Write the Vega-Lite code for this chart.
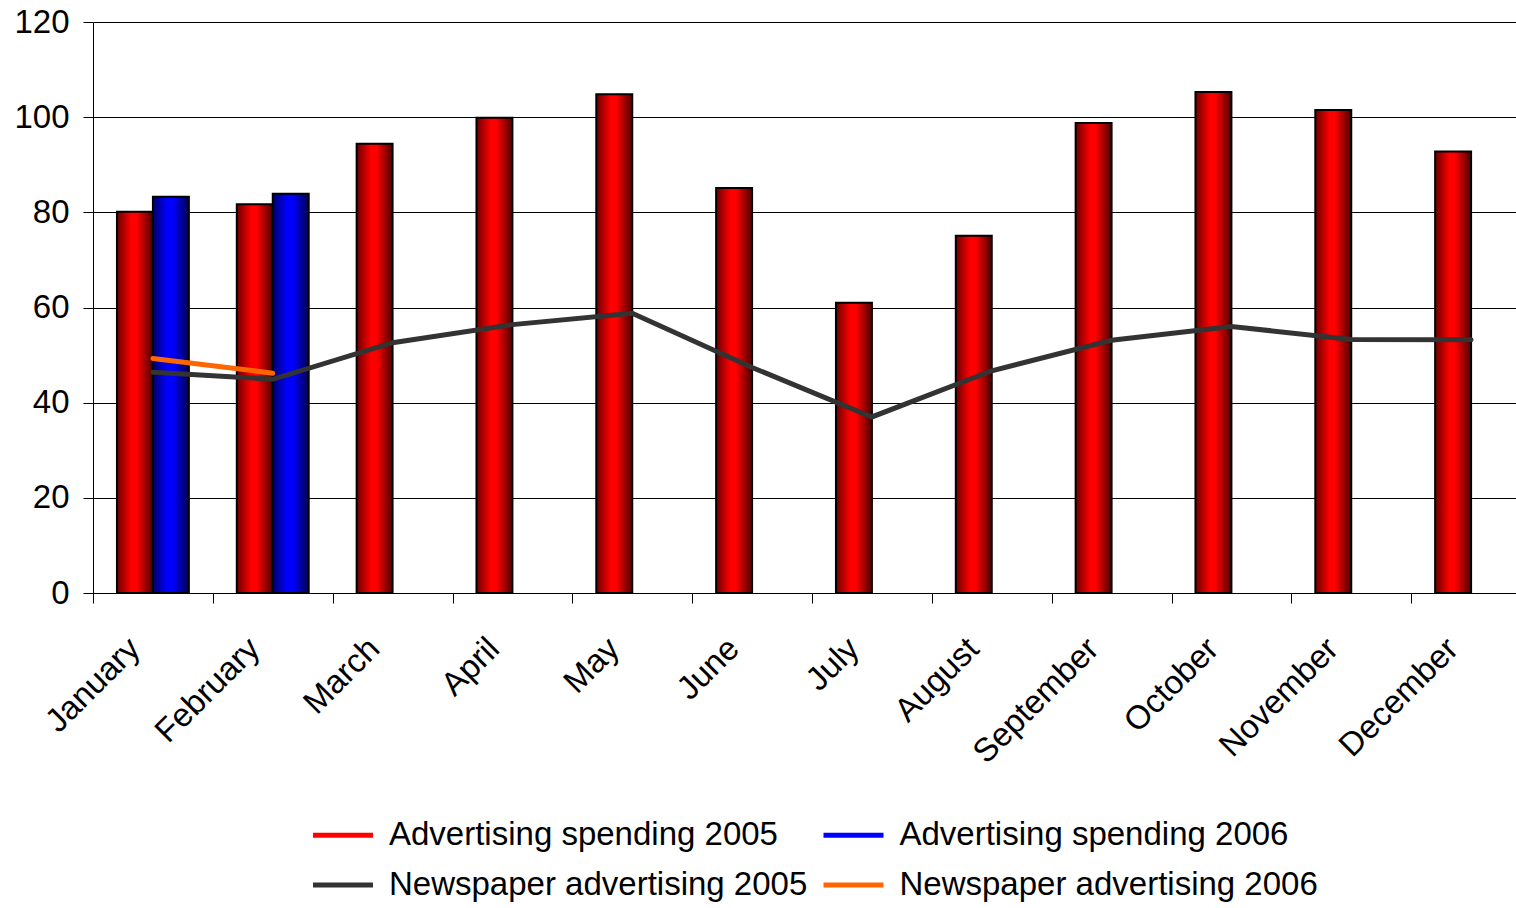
{
  "$schema": "https://vega.github.io/schema/vega-lite/v6.json",
  "width": 1423,
  "height": 571,
  "autosize": "none",
  "padding": {"left": 93, "top": 22, "right": 0, "bottom": 315},
  "background": "white",
  "config": {
    "view": {"stroke": null},
    "font": "Liberation Sans",
    "axis": {"labelFont": "Liberation Sans", "labelColor": "#000", "labelFontSize": 33, "domainColor": "#000", "tickColor": "#000", "tickSize": 10}
  },
  "data": {
    "values": [
      {"month": "January", "series": "Advertising spending 2005", "value": 80.1},
      {"month": "February", "series": "Advertising spending 2005", "value": 81.7},
      {"month": "March", "series": "Advertising spending 2005", "value": 94.4},
      {"month": "April", "series": "Advertising spending 2005", "value": 99.9},
      {"month": "May", "series": "Advertising spending 2005", "value": 104.8},
      {"month": "June", "series": "Advertising spending 2005", "value": 85.1},
      {"month": "July", "series": "Advertising spending 2005", "value": 61.0},
      {"month": "August", "series": "Advertising spending 2005", "value": 75.1},
      {"month": "September", "series": "Advertising spending 2005", "value": 98.8},
      {"month": "October", "series": "Advertising spending 2005", "value": 105.3},
      {"month": "November", "series": "Advertising spending 2005", "value": 101.5},
      {"month": "December", "series": "Advertising spending 2005", "value": 92.8},
      {"month": "January", "series": "Advertising spending 2006", "value": 83.3},
      {"month": "February", "series": "Advertising spending 2006", "value": 83.9},
      {"month": "January", "series": "Newspaper advertising 2005", "value": 46.4},
      {"month": "February", "series": "Newspaper advertising 2005", "value": 44.9},
      {"month": "March", "series": "Newspaper advertising 2005", "value": 52.6},
      {"month": "April", "series": "Newspaper advertising 2005", "value": 56.4},
      {"month": "May", "series": "Newspaper advertising 2005", "value": 58.8},
      {"month": "June", "series": "Newspaper advertising 2005", "value": 47.4},
      {"month": "July", "series": "Newspaper advertising 2005", "value": 37.0},
      {"month": "August", "series": "Newspaper advertising 2005", "value": 46.7},
      {"month": "September", "series": "Newspaper advertising 2005", "value": 53.1},
      {"month": "October", "series": "Newspaper advertising 2005", "value": 56.0},
      {"month": "November", "series": "Newspaper advertising 2005", "value": 53.3},
      {"month": "December", "series": "Newspaper advertising 2005", "value": 53.2},
      {"month": "January", "series": "Newspaper advertising 2006", "value": 49.3},
      {"month": "February", "series": "Newspaper advertising 2006", "value": 46.2}
    ]
  },
  "encoding": {
    "x": {
      "field": "month",
      "type": "nominal",
      "sort": ["January", "February", "March", "April", "May", "June", "July", "August", "September", "October", "November", "December"],
      "scale": {"range": [0, 1438], "paddingInner": 0.4, "paddingOuter": 0.2},
      "axis": {"title": null, "labelAngle": -45, "grid": false, "tickOffset": -59.9, "labelOffset": 29.9, "labelPadding": 29}
    },
    "y": {
      "field": "value",
      "type": "quantitative",
      "scale": {"domain": [0, 120], "nice": false},
      "axis": {"title": null, "values": [0, 20, 40, 60, 80, 100, 120], "grid": true, "gridColor": "#000", "labelPadding": 14}
    }
  },
  "layer": [
    {
      "transform": [{"filter": "datum.series === 'Advertising spending 2005'"}],
      "mark": {
        "type": "bar",
        "fill": {"gradient": "linear", "x1": 0, "y1": 0, "x2": 1, "y2": 0, "stops": [{"offset": 0, "color": "#6a0000"}, {"offset": 0.4, "color": "#ff0000"}, {"offset": 0.55, "color": "#ff0000"}, {"offset": 1, "color": "#4d0000"}]},
        "stroke": "#000",
        "strokeWidth": 2
      },
      "encoding": {
        "xOffset": {"field": "series", "scale": {"domain": ["Advertising spending 2005", "Advertising spending 2006"], "paddingInner": 0, "paddingOuter": 0}}
      }
    },
    {
      "transform": [{"filter": "datum.series === 'Advertising spending 2006'"}],
      "mark": {
        "type": "bar",
        "fill": {"gradient": "linear", "x1": 0, "y1": 0, "x2": 1, "y2": 0, "stops": [{"offset": 0, "color": "#00006a"}, {"offset": 0.4, "color": "#0000ff"}, {"offset": 0.55, "color": "#0000ff"}, {"offset": 1, "color": "#00004d"}]},
        "stroke": "#000",
        "strokeWidth": 2
      },
      "encoding": {
        "xOffset": {"field": "series", "scale": {"domain": ["Advertising spending 2005", "Advertising spending 2006"], "paddingInner": 0, "paddingOuter": 0}}
      }
    },
    {
      "transform": [{"filter": "indexof(datum.series, 'Newspaper') === 0"}],
      "mark": {"type": "line", "strokeCap": "round", "strokeWidth": 5},
      "encoding": {
        "color": {
          "field": "series",
          "type": "nominal",
          "scale": {"domain": ["Advertising spending 2005", "Advertising spending 2006", "Newspaper advertising 2005", "Newspaper advertising 2006"], "range": ["#ff0000", "#0000ff", "#333333", "#ff6600"]},
          "legend": {
            "title": null,
            "orient": "none",
            "legendX": 217.5,
            "legendY": 780.5,
            "direction": "horizontal",
            "columns": 2,
            "columnPadding": 5.5,
            "rowPadding": -5,
            "symbolType": "stroke",
            "symbolSize": 3600,
            "symbolStrokeWidth": 5,
            "labelOffset": 13.5,
            "labelFont": "Liberation Sans",
            "labelFontSize": 33,
            "labelColor": "#000",
            "labelLimit": 700
          }
        }
      }
    }
  ]
}
